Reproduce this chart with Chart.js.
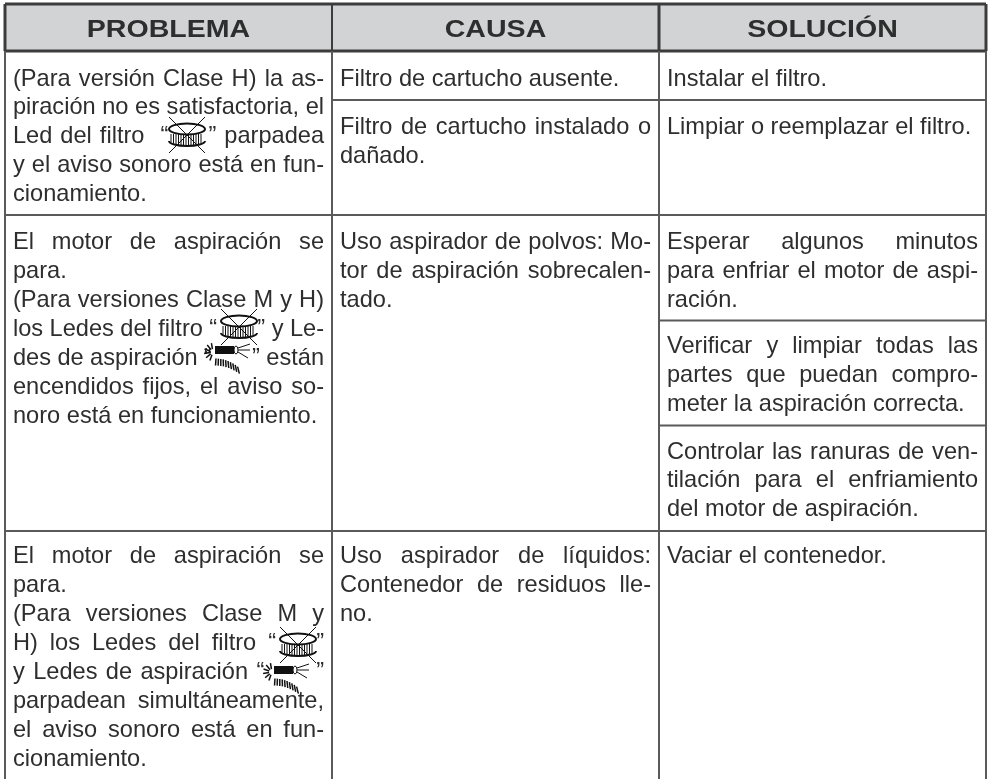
<!DOCTYPE html>
<html>
<head>
<meta charset="utf-8">
<title>Problema causa solución</title>
<script src="https://cdn.jsdelivr.net/npm/chart.js@4"></script>
<style>
  html, body { margin: 0; padding: 0; background: #fff; }
  canvas { display: block; }
</style>
</head>
<body>
<canvas id="table" width="991" height="779"></canvas>
<script>
// fixed width blanks inside the quotes, the icons sit on them
const filterGap = '\u2003\u2002\u2009';
const hoseGap = '\u2003\u2003\u2009';

// table content
const headers = ['PROBLEMA', 'CAUSA', 'SOLUCIÓN'];

const problemFilter = [
  '(Para versión Clase H) la as-',
  'piración no es satisfactoria, el',
  'Led del filtro  “' + filterGap + '” parpadea',
  'y el aviso sonoro está en fun-',
  'cionamiento.'
];
const problemOverheat = [
  'El motor de aspiración se',
  'para.',
  '(Para versiones Clase M y H)',
  'los Ledes del filtro “' + filterGap + '” y Le-',
  'des de aspiración “' + filterGap + '” están',
  'encendidos fijos, el aviso so-',
  'noro está en funcionamiento.'
];
const problemFull = [
  'El motor de aspiración se',
  'para.',
  '(Para versiones Clase M y',
  'H) los Ledes del filtro “' + filterGap + '”',
  'y Ledes de aspiración “' + hoseGap + '”',
  'parpadean simultáneamente,',
  'el aviso sonoro está en fun-',
  'cionamiento.'
];
const causeMissing = ['Filtro de cartucho ausente.'];
const causeDamaged = ['Filtro de cartucho instalado o', 'dañado.'];
const causeOverheat = ['Uso aspirador de polvos: Mo-', 'tor de aspiración sobrecalen-', 'tado.'];
const causeFull = ['Uso aspirador de líquidos:', 'Contenedor de residuos lle-', 'no.'];
const fixInstall = ['Instalar el filtro.'];
const fixReplace = ['Limpiar o reemplazar el filtro.'];
const fixWait = ['Esperar algunos minutos', 'para enfriar el motor de aspi-', 'ración.'];
const fixCheck = ['Verificar y limpiar todas las', 'partes que puedan compro-', 'meter la aspiración correcta.'];
const fixVents = ['Controlar las ranuras de ven-', 'tilación para el enfriamiento', 'del motor de aspiración.'];
const fixEmpty = ['Vaciar el contenedor.'];

// table grid, in axis units
const columnEdges = [5, 332, 659, 986];
const headerEdges = [4, 51];
const rowEdges = [215, 531];
const pageBottom = 779;

const ruleColor = '#5a5a5a';
const headColor = '#3c3c3c';
const textColor = '#2e2e2e';

function rule(x0, y0, x1, y1, width, color) {
  return {
    type: 'line',
    data: [{ x: x0, y: y0 }, { x: x1, y: y1 }],
    borderColor: color || ruleColor,
    borderWidth: width,
    pointRadius: 0,
    fill: false
  };
}

const datasets = [
  // body rules
  rule(columnEdges[0], headerEdges[1], columnEdges[0], pageBottom, 2),
  rule(columnEdges[1], headerEdges[1], columnEdges[1], pageBottom, 2),
  rule(columnEdges[2], headerEdges[1], columnEdges[2], pageBottom, 2),
  rule(columnEdges[3], headerEdges[1], columnEdges[3], pageBottom, 2),
  rule(columnEdges[0], rowEdges[0], columnEdges[3], rowEdges[0], 2),
  rule(columnEdges[0], rowEdges[1], columnEdges[3], rowEdges[1], 2),
  rule(columnEdges[1], 100, columnEdges[3], 100, 2),
  rule(columnEdges[2], 320.5, columnEdges[3], 320.5, 2),
  rule(columnEdges[2], 425.5, columnEdges[3], 425.5, 2),
  // header frame
  rule(columnEdges[0], headerEdges[0], columnEdges[3], headerEdges[0], 3, headColor),
  rule(columnEdges[0], headerEdges[1], columnEdges[3], headerEdges[1], 3, headColor),
  rule(columnEdges[0], headerEdges[0], columnEdges[0], headerEdges[1], 3, headColor),
  rule(columnEdges[1], headerEdges[0], columnEdges[1], headerEdges[1], 2, headColor),
  rule(columnEdges[2], headerEdges[0], columnEdges[2], headerEdges[1], 3, headColor),
  rule(columnEdges[3], headerEdges[0], columnEdges[3], headerEdges[1], 3, headColor),
  // header band
  {
    type: 'line',
    data: [{ x: columnEdges[0], y: headerEdges[0] }, { x: columnEdges[3], y: headerEdges[0] }],
    borderWidth: 0,
    pointRadius: 0,
    backgroundColor: '#d1d3d4',
    fill: { value: headerEdges[1] }
  }
];

// column, first baseline, lines
const cells = [
  [0, 85.5, problemFilter],
  [0, 249, problemOverheat],
  [0, 563, problemFull],
  [1, 85.5, causeMissing],
  [1, 134, causeDamaged],
  [1, 249, causeOverheat],
  [1, 563, causeFull],
  [2, 85.5, fixInstall],
  [2, 134, fixReplace],
  [2, 249, fixWait],
  [2, 353, fixCheck],
  [2, 458.5, fixVents],
  [2, 563, fixEmpty]
];

const filterIcons = [[187, 135], [239, 327], [298, 645]];
const hoseIcons = [[228, 351], [287, 671]];

function drawLine(ctx, text, x, y, width) {
  const gaps = (text.match(/ /g) || []).length;
  ctx.wordSpacing = '0px';
  const natural = ctx.measureText(text).width;
  if (!text.endsWith('.') && gaps > 0) {
    ctx.wordSpacing = ((width - natural) / gaps) + 'px';
  }
  ctx.fillText(text, x, y);
  ctx.wordSpacing = '0px';
}

function drawFilter(ctx, cx, cy) {
  ctx.save();
  ctx.strokeStyle = '#111';
  // ribs
  ctx.lineWidth = 1;
  for (let dx = -16; dx <= 16; dx += 2.5) {
    const edge = 4.5 * Math.sqrt(Math.max(0, 1 - (dx * dx) / 289));
    ctx.beginPath();
    ctx.moveTo(cx + dx, cy - 1);
    ctx.lineTo(cx + dx, cy + 6 + edge);
    ctx.stroke();
  }
  // bottom rim
  ctx.lineWidth = 2;
  ctx.beginPath();
  ctx.ellipse(cx, cy + 6, 18, 5, 0, 0, Math.PI);
  ctx.stroke();
  // top rim
  ctx.fillStyle = '#fff';
  ctx.beginPath();
  ctx.ellipse(cx, cy - 6, 18, 5.5, 0, 0, Math.PI * 2);
  ctx.fill();
  ctx.stroke();
  // cross
  ctx.lineWidth = 1;
  ctx.beginPath();
  ctx.moveTo(cx - 18, cy - 18);
  ctx.lineTo(cx + 18, cy + 18);
  ctx.moveTo(cx + 18, cy - 18);
  ctx.lineTo(cx - 18, cy + 18);
  ctx.stroke();
  ctx.restore();
}

function drawHose(ctx, cx, cy) {
  ctx.save();
  ctx.fillStyle = '#111';
  ctx.strokeStyle = '#111';
  ctx.fillRect(cx - 13, cy - 5, 19, 8);
  ctx.lineWidth = 1;
  // nozzle ring
  ctx.beginPath();
  ctx.ellipse(cx + 8, cy - 1, 2, 4, 0, 0, Math.PI * 2);
  ctx.stroke();
  // air lines
  ctx.beginPath();
  ctx.moveTo(cx + 10, cy - 3);
  ctx.lineTo(cx + 22, cy - 7);
  ctx.moveTo(cx + 10, cy - 1);
  ctx.lineTo(cx + 22, cy - 1);
  ctx.moveTo(cx + 10, cy + 1);
  ctx.lineTo(cx + 20, cy + 7);
  ctx.stroke();
  // radial ticks round the hose end
  ctx.lineWidth = 1.5;
  for (let deg = 110; deg <= 260; deg += 30) {
    const a = deg * Math.PI / 180;
    ctx.beginPath();
    ctx.moveTo(cx - 15 + 3 * Math.cos(a), cy + 1 + 3 * Math.sin(a));
    ctx.lineTo(cx - 15 + 9 * Math.cos(a), cy + 1 + 9 * Math.sin(a));
    ctx.stroke();
  }
  // ribbed hose
  for (let i = 0; i < 10; i++) {
    const px = cx - 12 + i * 2.4;
    const py = cy + 11 + i * i * 0.1;
    ctx.beginPath();
    ctx.moveTo(px, py - 3.5);
    ctx.lineTo(px + i * 0.25 - 0.5, py + 3.5);
    ctx.stroke();
  }
  ctx.restore();
}

const tableText = {
  id: 'tableText',
  afterDatasetsDraw(chart) {
    const ctx = chart.ctx;
    const sx = chart.scales.x;
    const sy = chart.scales.y;
    ctx.save();
    ctx.textBaseline = 'alphabetic';
    ctx.fillStyle = textColor;

    // header labels, stretched wide like the original
    ctx.font = 'bold 23.5px "Liberation Sans"';
    ctx.textAlign = 'center';
    headers.forEach((label, i) => {
      const mid = (columnEdges[i] + columnEdges[i + 1]) / 2;
      ctx.save();
      ctx.translate(sx.getPixelForValue(mid), sy.getPixelForValue(37));
      ctx.scale(1.215, 1);
      ctx.fillText(label, 0, 0);
      ctx.restore();
    });

    ctx.font = '23.6px "Liberation Sans"';
    ctx.textAlign = 'left';
    cells.forEach(([col, first, lines]) => {
      const left = sx.getPixelForValue(columnEdges[col] + 8);
      const right = sx.getPixelForValue(columnEdges[col + 1] - 8);
      lines.forEach((line, i) => {
        drawLine(ctx, line, left, sy.getPixelForValue(first + i * 28.95), right - left);
      });
    });
    ctx.restore();

    filterIcons.forEach(([x, y]) => drawFilter(ctx, sx.getPixelForValue(x), sy.getPixelForValue(y)));
    hoseIcons.forEach(([x, y]) => drawHose(ctx, sx.getPixelForValue(x), sy.getPixelForValue(y)));
  }
};

new Chart(document.getElementById('table').getContext('2d'), {
  type: 'line',
  data: { datasets: datasets },
  options: {
    responsive: false,
    animation: false,
    layout: { padding: 0 },
    plugins: { legend: { display: false }, title: { display: false }, tooltip: { enabled: false } },
    scales: {
      x: { type: 'linear', display: false, min: 0, max: 991 },
      y: { type: 'linear', display: false, min: 0, max: pageBottom, reverse: true }
    }
  },
  plugins: [tableText]
});
</script>
</body>
</html>
